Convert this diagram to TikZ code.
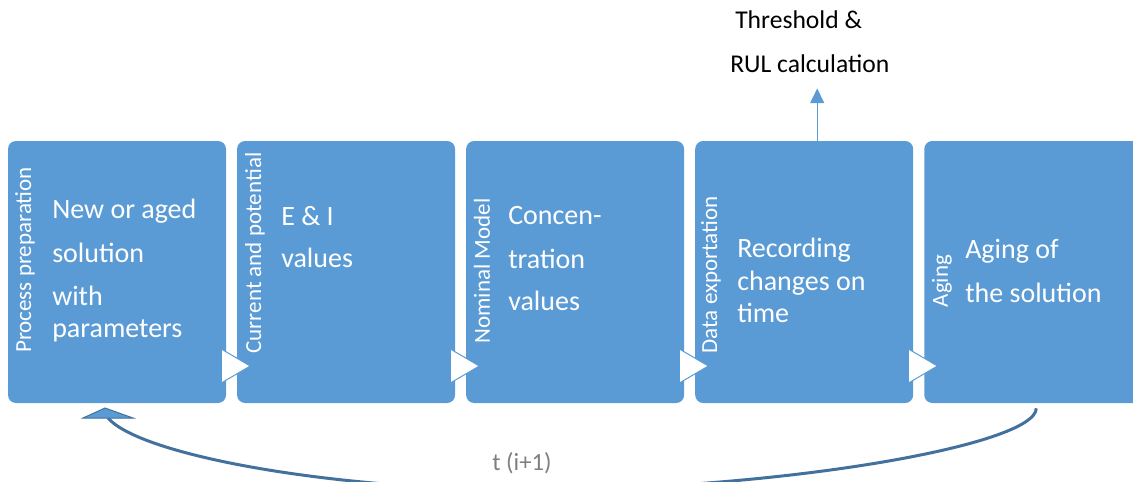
\documentclass[tikz,border=0pt]{standalone}
\usepackage{fontspec}
\setmainfont{Carlito}
\usetikzlibrary{positioning,arrows.meta}

\definecolor{boxblue}{HTML}{5B9BD5}
\definecolor{loopblue}{HTML}{41719C}
\definecolor{labelgray}{HTML}{7F7F7F}

\tikzset{
  stage/.style={fill=boxblue, rounded corners=6pt, minimum width=163.5pt,
    minimum height=196.5pt, inner sep=0pt},
  phase/.style={text=white, rotate=90, inner sep=0pt,
    font=\fontsize{17.25}{20}\selectfont},
  maintext/.style={text=white, align=left, anchor=base west, inner sep=0pt,
    font=\fontsize{21}{33}\selectfont},
  chevron/.style={fill=white, draw=boxblue, line width=0.75pt},
  riser/.style={draw=boxblue, line width=0.75pt,
    -{Triangle[width=10.5pt, length=11pt]}, shorten >=12pt},
  loopline/.style={draw=loopblue, line width=2.25pt},
  loophead/.style={fill=boxblue, draw=loopblue, line width=0.75pt},
}

\begin{document}
\begin{tikzpicture}[x=0.75pt, y=-0.75pt]
    \useasboundingbox (0,0) rectangle (1133,482);

    % Etapas
    \node[stage] (b1) at (117,272) {};
    \node[stage, right=7.9pt of b1] (b2) {};
    \node[stage, right=7.9pt of b2] (b3) {};
    \node[stage, right=7.9pt of b3] (b4) {};
    \node[stage, right=7.9pt of b4] (b5) {};

    % Flechas entre etapas
    \foreach \i in {1,...,4}
        \filldraw[chevron] ([shift={(-5,77)}]b\i.east) -- ([shift={(24,94)}]b\i.east)
            -- ([shift={(-5,111)}]b\i.east) -- cycle;

    % Titulos verticales
    \node[phase] (lab1) at (25,260) {Process preparation};
    \node[phase] (lab2) at (255,253) {Current and potential};
    \node[phase] (lab3) at (482,271) {Nominal Model};
    \node[phase] (lab4) at (711,275) {Data exportation};
    \node[phase] (lab5) at (942,281) {Aging};

    % Contenido (anclado en la linea base de la ultima linea)
    \node[maintext] (t1) at (52,337) {New or aged\\solution\\[-0.75pt]with\\[-9pt]parameters};
    \node[maintext] (t2) at (281,267) {E \& I\\[-1.5pt]values};
    \node[maintext] (t3) at (508,310) {Concen-\\tration\\[-1.5pt]values};
    \node[maintext] (t4) at (737,322) {Recording\\[-8.25pt]changes on\\[-9pt]time};
    \node[maintext] (t5) at (965,302) {Aging of\\the solution};

    % Umbral y RUL
    \node[maintext, text=black, font=\fontsize{19.2}{33}\selectfont] (thr) at (730,72)
        {\hspace*{3.75pt}Threshold \&\\RUL calculation};
    \draw[riser] ([xshift=9.75pt]b4.north) -- ([xshift=9.75pt]b4.north |- thr.south);

    % Retorno al inicio
    \coordinate (back) at (108,418);
    \draw[loopline] ([shift={(3,5)}]b5.south) .. controls +(0,37) and (780,490) .. (530,490)
        .. controls (330,490) and (140,455) .. (back);
    \filldraw[loophead] (back) ++(-25,0) -- ++(22,-10) -- ++(28,10) -- cycle;
    \node[text=labelgray, font=\fontsize{18.5}{22}\selectfont] (lbl) at (522,463) {t (i+1)};
\end{tikzpicture}
\end{document}
